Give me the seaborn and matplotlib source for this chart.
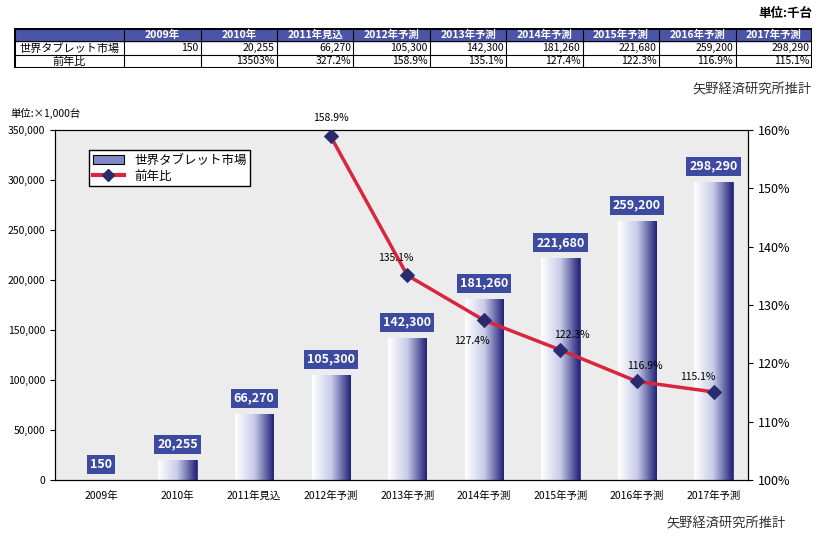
import numpy as np
import pandas as pd
import matplotlib.pyplot as plt
import seaborn as sns
from matplotlib.colors import LinearSegmentedColormap
from matplotlib.patches import Patch
from matplotlib.lines import Line2D

plt.rcParams["font.family"] = ["Noto Sans CJK JP", "DejaVu Sans"]

years = ["2009年", "2010年", "2011年見込", "2012年予測", "2013年予測",
         "2014年予測", "2015年予測", "2016年予測", "2017年予測"]
market = [150, 20255, 66270, 105300, 142300, 181260, 221680, 259200, 298290]
yoy = [None, 13503.0, 327.2, 158.9, 135.1, 127.4, 122.3, 116.9, 115.1]
yoy_labels = ["", "13503%", "327.2%", "158.9%", "135.1%", "127.4%", "122.3%", "116.9%", "115.1%"]

NAVY = "#23237a"
RED = "#d7263d"

fig = plt.figure(figsize=(8.26, 5.46), dpi=100)
W, H = 826, 546

def fx(px): return px / W
def fy(py): return 1 - py / H

# ---- table at top ----
fig.text(fx(812), fy(14), "単位:千台", ha="right", va="center", fontsize=9, fontweight="bold")
tab = fig.add_axes([fx(14), fy(68), fx(812) - fx(14), fy(28) - fy(68)])
tab.set_xlim(0, 10); tab.set_ylim(0, 3); tab.axis("off")
bounds = [0, 1.38] + list(1.38 + np.arange(1, 10) * (10 - 1.38) / 9)
tab.add_patch(plt.Rectangle((0, 2), 10, 1, color="#4a55a8"))
for i, y in enumerate(years):
    tab.text((bounds[i + 1] + bounds[i + 2]) / 2, 2.5, y, ha="center", va="center",
             color="white", fontsize=7.5, fontweight="bold")
tab.text(bounds[1] / 2, 1.5, "世界タブレット市場", ha="center", va="center", fontsize=8)
tab.text(bounds[1] / 2, 0.5, "前年比", ha="center", va="center", fontsize=8)
for i in range(9):
    tab.text(bounds[i + 2] - 0.03, 1.5, f"{market[i]:,}", ha="right", va="center", fontsize=7.5)
    tab.text(bounds[i + 2] - 0.03, 0.5, yoy_labels[i], ha="right", va="center", fontsize=7.5)
for b in bounds:
    tab.plot([b, b], [0, 3], color="black", lw=0.8)
for r in [0, 1, 2, 3]:
    tab.plot([0, 10], [r, r], color="black", lw=0.8)
tab.add_patch(plt.Rectangle((0, 0), 10, 3, fill=False, lw=2.2, ec="black"))

fig.text(fx(812), fy(90), "矢野経済研究所推計", ha="right", va="center", fontsize=9.5, color="#333333")
fig.text(fx(786), fy(524), "矢野経済研究所推計", ha="right", va="center", fontsize=9.5, color="#333333")

# ---- main chart ----
ax = fig.add_axes([fx(55), fy(480), fx(748) - fx(55), fy(130) - fy(480)])
ax.set_facecolor("#ececec")
df = pd.DataFrame({"year": years, "market": market})
sns.barplot(data=df, x="year", y="market", ax=ax, color="white", width=0.5,
            edgecolor=NAVY, linewidth=0.6, zorder=2)
cmap = LinearSegmentedColormap.from_list("g", ["#ffffff", "#c8cbe8", NAVY])
grad = np.linspace(0, 1, 64).reshape(1, -1)
for p in ax.patches:
    x0, w, h = p.get_x(), p.get_width(), p.get_height()
    im = ax.imshow(grad, cmap=cmap, aspect="auto", extent=[x0, x0 + w, 0, h], zorder=2.5)
    im.set_clip_path(p)
ax.set_xlim(-0.6, 8.45)
ax.set_ylim(0, 350000)
ax.set_yticks(range(0, 350001, 50000))
ax.set_yticklabels([f"{v:,}" for v in range(0, 350001, 50000)], fontsize=7.5)
ax.set_xticks(range(9))
ax.set_xticklabels(years, fontsize=7.5)
ax.tick_params(axis="x", length=0, pad=8)
ax.set_xlabel(""); ax.set_ylabel("")
for i, v in enumerate(market):
    ax.text(i, v + 9000, f"{v:,}", ha="center", va="bottom", color="white",
            fontsize=9, fontweight="bold", zorder=5,
            bbox=dict(boxstyle="square,pad=0.25", fc="#3c4aa0", ec="none"))
fig.text(fx(10), fy(113), "単位:×1,000台", ha="left", va="center", fontsize=7.5)

ax2 = ax.twinx()
ldf = pd.DataFrame({"x": list(range(3, 9)), "yoy": yoy[3:]})
sns.lineplot(data=ldf, x="x", y="yoy", ax=ax2, color=RED, lw=2.5, marker="D",
             markersize=7, markerfacecolor="#2a2a6e", markeredgecolor="#2a2a6e", zorder=6)
ax2.set_ylim(100, 160)
ax2.set_yticks(range(100, 161, 10))
ax2.set_yticklabels([f"{v}%" for v in range(100, 161, 10)], fontsize=9)
ax2.set_ylabel("")
offsets = {3: (0, 3.2), 4: (-0.15, 3.0), 5: (-0.15, -3.6), 6: (0.15, 2.6), 7: (0.1, 2.6), 8: (-0.2, 2.6)}
for i in range(3, 9):
    dx, dy = offsets[i]
    ax2.text(i + dx, yoy[i] + dy, yoy_labels[i], ha="center", va="center", fontsize=7.5, zorder=7)
ax2.set_xlim(-0.6, 8.45)

handles = [Patch(fc="#8088c8", ec="black", lw=0.8),
           Line2D([], [], color=RED, lw=3, marker="D", markersize=6,
                  markerfacecolor="#2a2a6e", markeredgecolor="#2a2a6e")]
ax2.legend(handles, ["世界タブレット市場", "前年比"], loc="upper left",
           bbox_to_anchor=(0.04, 0.96), fontsize=9, frameon=True, fancybox=False,
           edgecolor="black", framealpha=1, handlelength=2.5, borderpad=0.3, labelspacing=0.2)

fig.savefig("out.png", dpi=100)
